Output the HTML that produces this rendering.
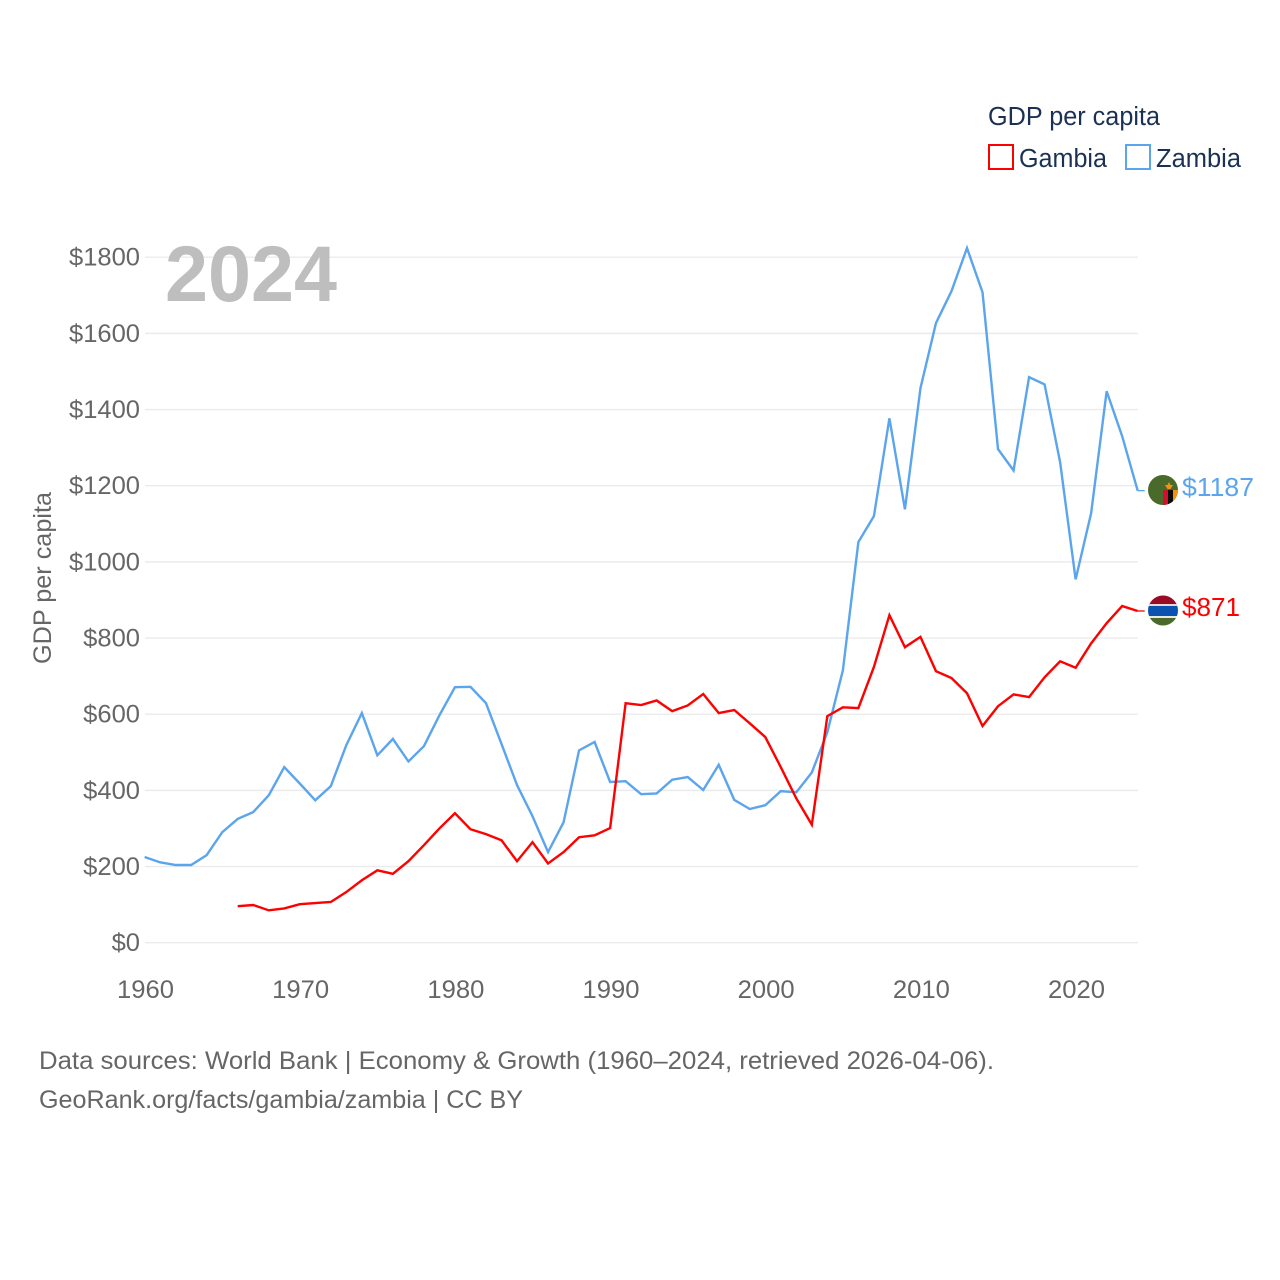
<!DOCTYPE html>
<html lang="en">
<head>
<meta charset="utf-8">
<title>GDP per capita: Gambia and Zambia</title>
<style>
html,body{margin:0;padding:0;background:#fff;width:1280px;height:1280px;overflow:hidden}
svg{display:block}
text{font-family:"Liberation Sans",sans-serif}
</style>
</head>
<body>
<svg id="chart" width="1280" height="1280" viewBox="0 0 1280 1280" xmlns="http://www.w3.org/2000/svg">
  <defs>
    <clipPath id="flag-clip-z"><circle cx="1163" cy="490" r="15"/></clipPath>
    <clipPath id="flag-clip-g"><circle cx="1163" cy="610.5" r="15"/></clipPath>
  </defs>
  <g id="grid"></g>
  <g id="yticks"></g>
  <g id="xticks"></g>
  <text x="165" y="301" font-size="79" font-weight="700" fill="#bebebe" textLength="172" lengthAdjust="spacingAndGlyphs">2024</text>
  <g id="series"></g>
  <text transform="translate(51 578) rotate(-90)" text-anchor="middle" font-size="25" fill="#666" textLength="172" lengthAdjust="spacingAndGlyphs">GDP per capita</text>

  <text x="988" y="125" font-size="25.5" fill="#1b3153" textLength="172" lengthAdjust="spacingAndGlyphs">GDP per capita</text>
  <g>
    <rect x="989" y="145" width="24" height="24" fill="none" stroke="#ff0000" stroke-width="2"/>
    <text x="1019" y="167" font-size="25.5" fill="#1b3153" textLength="88" lengthAdjust="spacingAndGlyphs">Gambia</text>
  </g>
  <g>
    <rect x="1126" y="145" width="24" height="24" fill="none" stroke="#5ba4ee" stroke-width="2"/>
    <text x="1156" y="167" font-size="25.5" fill="#1b3153" textLength="85" lengthAdjust="spacingAndGlyphs">Zambia</text>
  </g>

  <g clip-path="url(#flag-clip-z)">
    <rect x="1148" y="475" width="30" height="30" fill="#4a6a2c"/>
    <rect x="1163" y="490" width="5" height="16" fill="#d0102c"/>
    <rect x="1168" y="490" width="5" height="16" fill="#0a0a0a"/>
    <rect x="1173" y="490" width="5" height="16" fill="#f2930f"/>
    <polygon points="1165,485 1173,485 1170.5,489 1167.5,489" fill="#f2930f"/>
    <polygon points="1169,482 1171,486 1167,486" fill="#f2930f"/>
  </g>
  <g clip-path="url(#flag-clip-g)">
    <rect x="1148" y="595" width="30" height="11" fill="#9a0a24"/>
    <rect x="1148" y="604" width="30" height="2" fill="#e8d8d8"/>
    <rect x="1148" y="606" width="30" height="10" fill="#0a52b0"/>
    <rect x="1148" y="616" width="30" height="2" fill="#e8e8e0"/>
    <rect x="1148" y="618" width="30" height="9" fill="#4a6a2c"/>
  </g>
  <text id="end-label-zambia" x="1182" y="496" font-size="25.5" fill="#5ba4ee" textLength="72" lengthAdjust="spacingAndGlyphs"></text>
  <text id="end-label-gambia" x="1182" y="616" font-size="25.5" fill="#ff0000" textLength="58" lengthAdjust="spacingAndGlyphs"></text>

  <text x="39" y="1069" font-size="25" fill="#666" textLength="955" lengthAdjust="spacingAndGlyphs">Data sources: World Bank | Economy &amp; Growth (1960–2024, retrieved 2026-04-06).</text>
  <text x="39" y="1108" font-size="25" fill="#666" textLength="484" lengthAdjust="spacingAndGlyphs">GeoRank.org/facts/gambia/zambia | CC BY</text>
</svg>
<script>
var startYear = 1960;
var yTickValues = [0, 200, 400, 600, 800, 1000, 1200, 1400, 1600, 1800];
var xTickYears = [1960, 1970, 1980, 1990, 2000, 2010, 2020];
var zambiaValues = [225, 211, 204, 204, 230, 290, 325, 343, 387, 461,
  418, 374, 411, 519, 603, 492, 535, 476, 516, 597,
  671, 672, 629, 522, 414, 332, 238, 316, 505, 527,
  422, 424, 390, 392, 428, 435, 401, 467, 375, 351,
  361, 398, 395, 447, 553, 715, 1052, 1120, 1377, 1138,
  1456, 1627, 1711, 1824, 1708, 1296, 1240, 1485, 1466, 1262,
  954, 1128, 1448, 1330, 1187];
var gambiaValues = [null, null, null, null, null, null, 96, 99, 85, 90,
  101, 104, 107, 133, 164, 190, 181, 214, 256, 300,
  340, 298, 285, 269, 214, 264, 208, 238, 277, 282,
  301, 629, 624, 636, 608, 623, 653, 603, 611, 576,
  540, 461, 379, 310, 595, 618, 616, 724, 860, 776,
  803, 713, 695, 655, 569, 621, 652, 645, 697, 739,
  722, 786, 839, 884, 871];

var SVG_NS = 'http://www.w3.org/2000/svg';
function xScale(year) { return 144.6 + (year - 1960) * 15.517; }
function yScale(value) { return 942.7 - value * 0.38083; }
function money(value) { return '$' + value; }

var gridGroup = document.getElementById('grid');
var yGroup = document.getElementById('yticks');
var xGroup = document.getElementById('xticks');
var seriesGroup = document.getElementById('series');

yTickValues.forEach(function (value) {
  var line = document.createElementNS(SVG_NS, 'line');
  
  
  line.setAttribute('x1', 145);
  line.setAttribute('x2', 1138);
  line.setAttribute('y1', yScale(value));
  line.setAttribute('y2', yScale(value));
  line.setAttribute('stroke', '#ebebeb');
  line.setAttribute('stroke-width', 1.4);
  gridGroup.appendChild(line);

  var label = document.createElementNS(SVG_NS, 'text');
  
  
  label.setAttribute('x', 140);
  label.setAttribute('y', yScale(value) + 8.5);
  label.setAttribute('text-anchor', 'end');
  label.setAttribute('font-size', 25);
  label.setAttribute('fill', '#666');
  label.setAttribute('textLength', 14.2 * money(value).length);
  label.setAttribute('lengthAdjust', 'spacingAndGlyphs');
  label.textContent = money(value);
  yGroup.appendChild(label);
});

xTickYears.forEach(function (year) {
  var label = document.createElementNS(SVG_NS, 'text');
  
  
  label.setAttribute('x', xScale(year) + 0.9);
  label.setAttribute('y', 998);
  label.setAttribute('text-anchor', 'middle');
  label.setAttribute('font-size', 25);
  label.setAttribute('fill', '#666');
  label.setAttribute('textLength', 57);
  label.setAttribute('lengthAdjust', 'spacingAndGlyphs');
  label.textContent = year;
  xGroup.appendChild(label);
});

function linePoints(values) {
  var pts = [];
  values.forEach(function (value, i) {
    if (value !== null) { pts.push(xScale(startYear + i).toFixed(2) + ',' + yScale(value).toFixed(2)); }
  });
  return pts.join(' ');
}

function drawSeries(values, color, name) {
  var poly = document.createElementNS(SVG_NS, 'polyline');
  
  
  poly.setAttribute('points', linePoints(values));
  poly.setAttribute('fill', 'none');
  poly.setAttribute('stroke', color);
  poly.setAttribute('stroke-width', 2.4);
  poly.setAttribute('stroke-linejoin', 'miter');
  seriesGroup.appendChild(poly);

  var last = values[values.length - 1];
  var stub = document.createElementNS(SVG_NS, 'line');
  
  
  stub.setAttribute('x1', xScale(startYear + values.length - 1));
  stub.setAttribute('x2', xScale(startYear + values.length - 1) + 7);
  stub.setAttribute('y1', yScale(last));
  stub.setAttribute('y2', yScale(last));
  stub.setAttribute('stroke', color);
  stub.setAttribute('stroke-width', 1.3);
  seriesGroup.appendChild(stub);
}

drawSeries(zambiaValues, '#5ba4ee', 'zambia-line');
drawSeries(gambiaValues, '#ff0000', 'gambia-line');

document.getElementById('end-label-zambia').textContent = money(zambiaValues[zambiaValues.length - 1]);
document.getElementById('end-label-gambia').textContent = money(gambiaValues[gambiaValues.length - 1]);
</script>
</body>
</html>
